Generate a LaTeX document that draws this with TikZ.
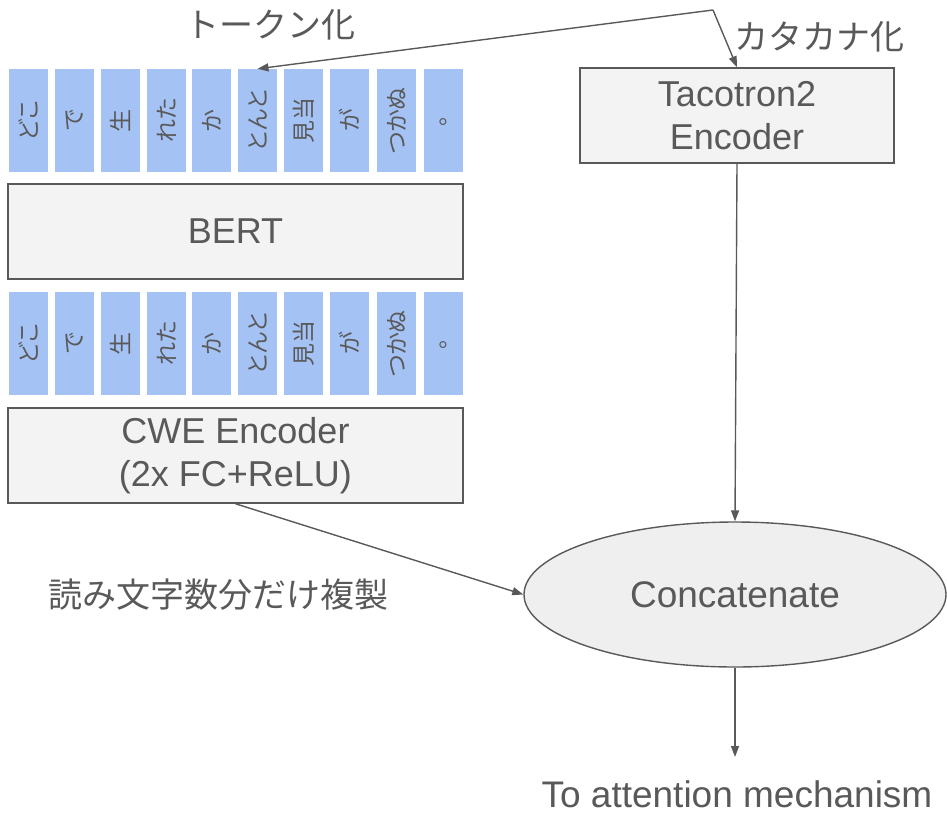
\documentclass[tikz,border=0pt]{standalone}
\usepackage{fontspec}
\setmainfont{Liberation Sans}
\newfontfamily\jp{Noto Sans CJK JP}
\newfontfamily\jpp[RawFeature=+palt]{Noto Sans CJK JP}
\usetikzlibrary{arrows.meta,shapes.geometric}
\definecolor{txt}{HTML}{595959}
\definecolor{tokfill}{HTML}{A4C2F4}
\definecolor{boxfill}{HTML}{F3F3F3}
\definecolor{ellfill}{HTML}{EFEFEF}
\tikzset{
  tok/.style={rectangle, fill=tokfill, inner sep=0pt, minimum width=39pt, minimum height=103pt, text=txt, font=\jpp\fontsize{23}{26}\selectfont},
  bigbox/.style={rectangle, draw=txt, line width=1.5pt, fill=boxfill, inner sep=0pt, text=txt, align=center, font=\fontsize{36}{43}\selectfont},
  lbl/.style={text=txt, inner sep=0pt, font=\jp\fontsize{34}{36}\selectfont},
  conn/.style={draw=txt, line width=1.4pt, -{Triangle[length=11pt,width=8pt]}},
}
\begin{document}
\begin{tikzpicture}[x=1pt,y=-1pt]
\useasboundingbox (0,0) rectangle (947,814);
% token rows
\foreach \i/\x/\t in {1/28.5/どこ,2/74.5/で,3/120.5/生,4/166.5/れた,5/211.5/か,6/257.5/とんと,7/303.5/見当,8/349.5/が,9/396.5/つかぬ,10/443.5/。}{
  \node[tok] (ta\i) at (\x,120.5) {\rotatebox{90}{\t}};
  \node[tok] (tb\i) at (\x,343.5) {\rotatebox{90}{\t}};
}
\node[bigbox, minimum width=455pt, minimum height=95pt] (bert) at (235.5,231.5) {BERT};
\node[bigbox, minimum width=455pt, minimum height=95pt] (cwe) at (235.5,455.5) {CWE Encoder\\(2x FC+ReLU)};
\node[bigbox, minimum width=314pt, minimum height=95pt] (taco) at (737,115.5) {Tacotron2\\Encoder};
\node[ellipse, draw=txt, line width=1.4pt, fill=ellfill, minimum width=422pt, minimum height=145pt, inner sep=0pt, text=txt, font=\fontsize{37}{42}\selectfont] (conc) at (735,594.5) {Concatenate};
\node[text=txt, inner sep=0pt, anchor=base, font=\fontsize{37}{42}\selectfont] (att) at (737,807) {To attention mechanism};
\node[lbl] (l1) at (270,25) {トークン化};
\node[lbl] (l2) at (819,37) {カタカナ化};
\node[lbl] (l3) at (218,595) {読み文字数分だけ複製};
\coordinate (split) at (713,10);
\draw[conn] (split) -- (ta6.north);
\draw[conn] (split) -- (taco.north);
\draw[conn] (taco.south) -- (conc.north);
\draw[conn] (cwe.south) -- (conc.west);
\draw[conn, shorten >=23pt] (conc.south) -- (conc.south |- att.north);
\end{tikzpicture}
\end{document}
